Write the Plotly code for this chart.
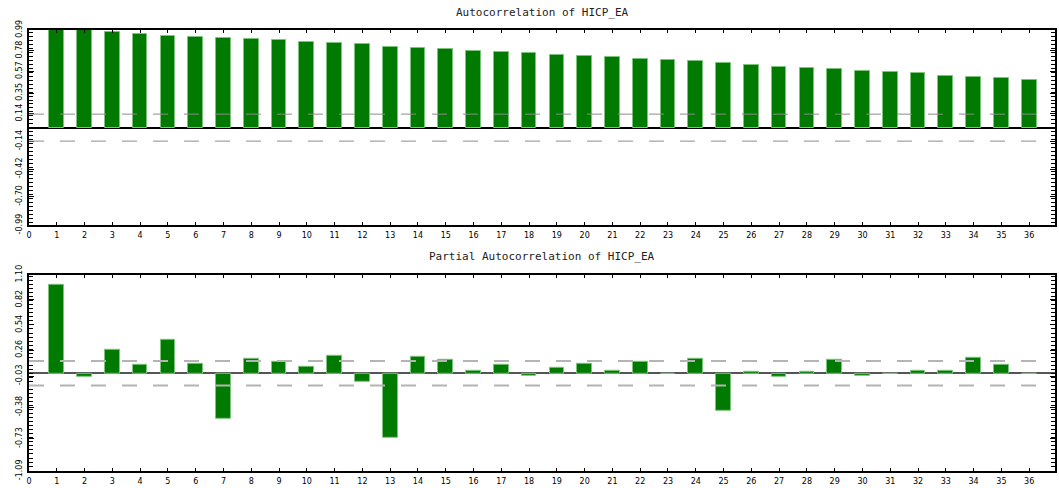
import plotly.graph_objects as go

# Lags and correlation estimates for HICP_EA
lags = list(range(1, 37))
acf_values = [0.995, 0.985, 0.967, 0.953, 0.933, 0.919, 0.909, 0.899, 0.889, 0.869,
              0.859, 0.849, 0.822, 0.809, 0.799, 0.778, 0.768, 0.758, 0.735, 0.725,
              0.715, 0.691, 0.681, 0.671, 0.651, 0.637, 0.617, 0.607, 0.594, 0.574,
              0.564, 0.550, 0.527, 0.517, 0.507, 0.486]
pacf_values = [0.985, -0.044, 0.259, 0.092, 0.376, 0.104, -0.509, 0.163, 0.133, 0.077,
               0.199, -0.092, -0.715, 0.185, 0.152, 0.030, 0.092, -0.022, 0.063, 0.104,
               0.030, 0.133, 0.000, 0.163, -0.413, 0.019, -0.044, 0.019, 0.152, -0.029,
               0.000, 0.030, 0.030, 0.174, 0.092, 0.000]

# Approximate 95% confidence band
conf_band = 0.137

# Axis tick definitions
lag_ticks = list(range(0, 38))
acf_tickvals = [0.99, 0.78, 0.57, 0.35, 0.14, -0.14, -0.42, -0.70, -0.99]
acf_ticktext = ["0.99", "0.78", "0.57", "0.35", "0.14", "-0.14", "-0.42", "-0.70", "-0.99"]
pacf_tickvals = [1.10, 0.82, 0.54, 0.26, -0.03, -0.38, -0.73, -1.09]
pacf_ticktext = ["1.10", "0.82", "0.54", "0.26", "-0.03", "-0.38", "-0.73", "-1.09"]

acf_range = [-0.99, 0.99]
pacf_range = [-1.09, 1.10]
lag_range = [0, 36.93]

BAR_FILL = "#007A00"
BAR_EDGE = "#7CC47C"
TICK_FONT = dict(family="DejaVu Sans", size=8, color="black")

fig = go.Figure()

fig.add_trace(go.Bar(x=lags, y=acf_values, width=0.53,
                     marker=dict(color=BAR_FILL, line=dict(color=BAR_EDGE, width=1)),
                     xaxis="x", yaxis="y", showlegend=False))
fig.add_trace(go.Bar(x=lags, y=pacf_values, width=0.53,
                     marker=dict(color=BAR_FILL, line=dict(color=BAR_EDGE, width=1)),
                     xaxis="x2", yaxis="y2", showlegend=False))

common_x = dict(range=lag_range, tickmode="array", tickvals=lag_ticks,
                ticktext=[str(v) for v in lag_ticks], ticks="inside", ticklen=3,
                tickwidth=1, tickcolor="black", showline=True, linewidth=2,
                linecolor="black", mirror="allticks", showgrid=False, zeroline=False,
                tickfont=TICK_FONT, ticklabelstandoff=1)

common_y = dict(tickmode="array", ticks="inside", ticklen=5, tickwidth=1,
                tickcolor="black", showline=True, linewidth=2, linecolor="black",
                mirror="allticks", showgrid=False, tickangle=-90, tickfont=TICK_FONT,
                ticklabelstandoff=2)

fig.update_layout(
    width=1059, height=488,
    margin=dict(l=29, r=2, t=30, b=13),
    paper_bgcolor="white", plot_bgcolor="white",
    bargap=0,
    xaxis=dict(domain=[0, 1], anchor="y", **common_x),
    xaxis2=dict(domain=[0, 1], anchor="y2", **common_x),
    yaxis=dict(domain=[0.5573, 1], anchor="x", range=acf_range,
               tickvals=acf_tickvals, ticktext=acf_ticktext,
               zeroline=True, zerolinecolor="black", zerolinewidth=1.5,
               minor=dict(ticks="inside", ticklen=4, dtick=0.04, tick0=0,
                          tickcolor="black", tickwidth=1),
               **common_y),
    yaxis2=dict(domain=[0, 0.4449], anchor="x2", range=pacf_range,
                tickvals=pacf_tickvals, ticktext=pacf_ticktext,
                zeroline=True, zerolinecolor="#555555", zerolinewidth=2,
                minor=dict(ticks="inside", ticklen=4, dtick=0.045, tick0=0,
                           tickcolor="black", tickwidth=1),
                **common_y),
)

# Confidence band lines
for yref, color, lw in (("y", "#8C8C8C", 1), ("y2", "#B4B4B4", 2)):
    xref = "x domain" if yref == "y" else "x2 domain"
    for sign in (1, -1):
        fig.add_shape(type="line", xref=xref, yref=yref, x0=0, x1=0.985,
                      y0=sign * conf_band, y1=sign * conf_band,
                      line=dict(color=color, width=lw, dash="15px,16px"),
                      layer="above")

TITLE_FONT = dict(family="DejaVu Sans Mono", size=11, color="#222222")
fig.add_annotation(text="Autocorrelation of HICP_EA", xref="paper", yref="paper",
                   x=0.5, y=1.0404, showarrow=False, font=TITLE_FONT,
                   xanchor="center", yanchor="middle")
fig.add_annotation(text="Partial Autocorrelation of HICP_EA", xref="paper", yref="paper",
                   x=0.5, y=0.4854, showarrow=False, font=TITLE_FONT,
                   xanchor="center", yanchor="middle")

fig.write_html("out.html")
